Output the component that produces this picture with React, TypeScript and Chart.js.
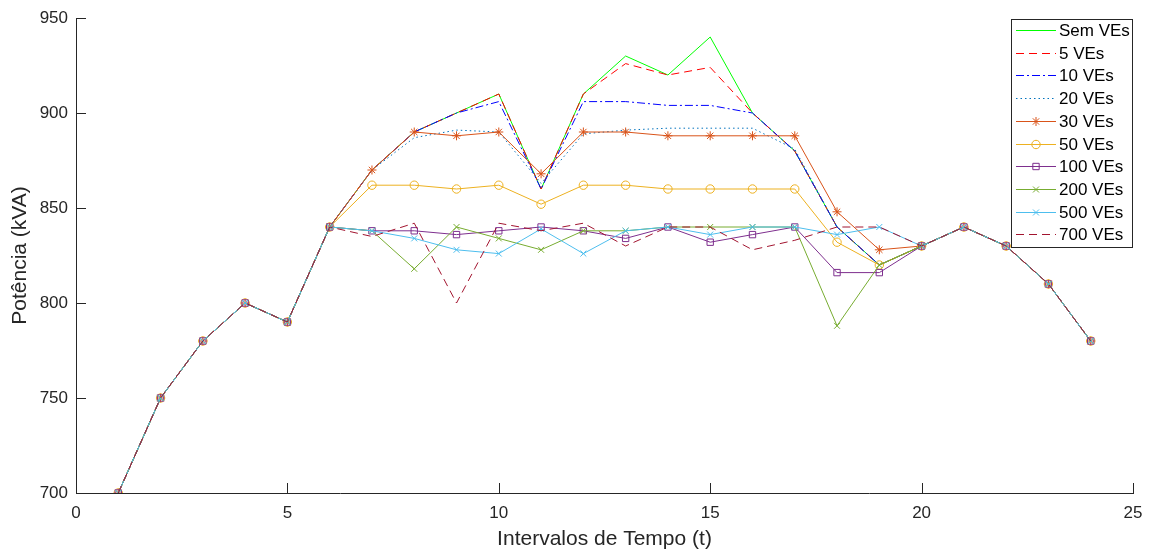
import React, { useEffect, useRef } from 'react';
import { Chart, registerables } from 'chart.js';

Chart.register(...registerables);

// ---- Data ----
const intervals = [1, 2, 3, 4, 5, 6, 7, 8, 9, 10, 11, 12, 13, 14, 15, 16, 17, 18, 19, 20, 21, 22, 23, 24];
const semVEs = [700, 750, 780, 800, 790, 840, 870, 890, 900, 910, 860, 910, 930, 920, 940, 900, 880, 840, 820, 830, 840, 830, 810, 780];
const ves5 = [700, 750, 780, 800, 790, 840, 870, 890, 900, 910, 860, 910, 926, 920, 924, 900, 880, 840, 820, 830, 840, 830, 810, 780];
const ves10 = [700, 750, 780, 800, 790, 840, 870, 890, 900, 906, 860, 906, 906, 904, 904, 900, 880, 840, 820, 830, 840, 830, 810, 780];
const ves20 = [700, 750, 780, 800, 790, 840, 870, 887, 891, 890, 863, 889, 891, 892, 892, 892, 881, 840, 820, 830, 840, 830, 810, 780];
const ves30 = [700, 750, 780, 800, 790, 840, 870, 890, 888, 890, 868, 890, 890, 888, 888, 888, 888, 848, 828, 830, 840, 830, 810, 780];
const ves50 = [700, 750, 780, 800, 790, 840, 862, 862, 860, 862, 852, 862, 862, 860, 860, 860, 860, 832, 820, 830, 840, 830, 810, 780];
const ves100 = [700, 750, 780, 800, 790, 840, 838, 838, 836, 838, 840, 838, 834, 840, 832, 836, 840, 816, 816, 830, 840, 830, 810, 780];
const ves200 = [700, 750, 780, 800, 790, 840, 838, 818, 840, 834, 828, 838, 838, 840, 840, 840, 840, 788, 820, 830, 840, 830, 810, 780];
const ves500 = [700, 750, 780, 800, 790, 840, 838, 834, 828, 826, 839, 826, 838, 840, 836, 840, 840, 836, 840, 830, 840, 830, 810, 780];
const ves700 = [700, 750, 780, 800, 790, 840, 835, 842, 800, 842, 838, 842, 830, 840, 840, 828, 833, 840, 840, 830, 840, 830, 810, 780];

const seriesLabels = ['Sem VEs', '5 VEs', '10 VEs', '20 VEs', '30 VEs', '50 VEs', '100 VEs', '200 VEs', '500 VEs', '700 VEs'];
const seriesValues = [semVEs, ves5, ves10, ves20, ves30, ves50, ves100, ves200, ves500, ves700];
const xTicks = [0, 5, 10, 15, 20, 25];
const yTicks = [700, 750, 800, 850, 900, 950];

// ---- Styles ----
const seriesColors = ['#00FF00', '#FF0000', '#0000FF', '#0072BD', '#D95319', '#EDB120', '#7E2F8E', '#77AC30', '#4DBEEE', '#A2142F'];
const seriesDash: number[][] = [[], [8, 5], [8, 3, 2, 3], [1.5, 3], [], [], [], [], [], [8, 5]];
const seriesMarker: (string | null)[] = [null, null, null, null, 'star', 'circle', 'rect', 'crossRot', 'crossRot', null];
const markerRadius: Record<string, number> = { star: 4.5, circle: 4.2, rect: 4.5, crossRot: 4.2 };

const FONT = '"Liberation Sans", Arial, Helvetica, sans-serif';
const AXIS_COLOR = '#262626';

function drawMarker(ctx: CanvasRenderingContext2D, style: string, x: number, y: number, r: number, color: string) {
  ctx.save();
  ctx.strokeStyle = color;
  ctx.lineWidth = 1;
  ctx.setLineDash([]);
  ctx.beginPath();
  if (style === 'circle') {
    ctx.arc(x, y, r, 0, Math.PI * 2);
  } else if (style === 'rect') {
    const s = Math.SQRT1_2 * r;
    ctx.rect(x - s, y - s, 2 * s, 2 * s);
  } else if (style === 'crossRot') {
    const d = Math.SQRT1_2 * r;
    ctx.moveTo(x - d, y - d); ctx.lineTo(x + d, y + d);
    ctx.moveTo(x - d, y + d); ctx.lineTo(x + d, y - d);
  } else if (style === 'star') {
    const d = Math.SQRT1_2 * r;
    ctx.moveTo(x - r, y); ctx.lineTo(x + r, y);
    ctx.moveTo(x, y - r); ctx.lineTo(x, y + r);
    ctx.moveTo(x - d, y - d); ctx.lineTo(x + d, y + d);
    ctx.moveTo(x - d, y + d); ctx.lineTo(x + d, y - d);
  }
  ctx.stroke();
  ctx.restore();
}

const innerTicksPlugin = {
  id: 'innerTicks',
  afterDatasetsDraw(chart: any) {
    const { ctx, chartArea, scales } = chart;
    const { left, bottom } = chartArea;
    ctx.save();
    ctx.strokeStyle = AXIS_COLOR;
    ctx.lineWidth = 1;
    ctx.beginPath();
    for (const v of xTicks) {
      const px = Math.round(scales.x.getPixelForValue(v)) + 0.5;
      ctx.moveTo(px, bottom);
      ctx.lineTo(px, bottom - 10);
    }
    for (const v of yTicks) {
      const py = Math.round(scales.y.getPixelForValue(v)) + 0.5;
      ctx.moveTo(left, py);
      ctx.lineTo(left + 10, py);
    }
    ctx.stroke();
    ctx.restore();
  },
};

const boxLegendPlugin = {
  id: 'boxLegend',
  afterDraw(chart: any) {
    const { ctx, chartArea } = chart;
    const w = 122;
    const h = 228;
    const x0 = Math.round(chartArea.right) - w;
    const y0 = Math.round(chartArea.top) + 1;
    ctx.save();
    ctx.fillStyle = '#ffffff';
    ctx.fillRect(x0, y0, w, h);
    ctx.strokeStyle = AXIS_COLOR;
    ctx.lineWidth = 1;
    ctx.setLineDash([]);
    ctx.strokeRect(x0 + 0.5, y0 + 0.5, w - 1, h);
    seriesLabels.forEach((label, i) => {
      const color = seriesColors[i];
      const cy = Math.round(y0 + 11 + i * 22.7) + 0.5;
      ctx.strokeStyle = color;
      ctx.lineWidth = 1.2;
      ctx.setLineDash(seriesDash[i]);
      ctx.beginPath();
      ctx.moveTo(x0 + 5, cy);
      ctx.lineTo(x0 + 45, cy);
      ctx.stroke();
      ctx.setLineDash([]);
      const m = seriesMarker[i];
      if (m) drawMarker(ctx, m, x0 + 25, cy, markerRadius[m], color);
      ctx.fillStyle = '#000000';
      ctx.font = `17px ${FONT}`;
      ctx.textBaseline = 'middle';
      ctx.textAlign = 'left';
      ctx.fillText(label, x0 + 48, cy + 1);
    });
    ctx.restore();
  },
};

export default function App() {
  const canvasRef = useRef<HTMLCanvasElement | null>(null);

  useEffect(() => {
    if (!canvasRef.current) return;
    const datasets = seriesLabels.map((label, i) => {
      const m = seriesMarker[i];
      return {
        label,
        data: intervals.map((t, k) => ({ x: t, y: seriesValues[i][k] })),
        borderColor: seriesColors[i],
        backgroundColor: seriesColors[i],
        borderWidth: 1,
        borderDash: seriesDash[i],
        pointStyle: m || 'circle',
        pointRadius: m ? markerRadius[m] : 0,
        pointBorderColor: seriesColors[i],
        pointBackgroundColor: 'rgba(0,0,0,0)',
        pointBorderWidth: 1,
        tension: 0,
        fill: false,
        order: seriesLabels.length - i,
      };
    });

    const chart = new Chart(canvasRef.current, {
      type: 'line',
      data: { datasets },
      options: {
        responsive: false,
        animation: false,
        events: [],
        layout: { padding: { left: 8, right: 16, top: 18, bottom: 0 } },
        plugins: {
          legend: { display: false },
          tooltip: { enabled: false },
        },
        scales: {
          x: {
            type: 'linear',
            min: 0,
            max: 25,
            afterBuildTicks: (scale: any) => {
              scale.ticks = xTicks.map((v) => ({ value: v }));
            },
            afterFit: (scale: any) => {
              scale.height = 59;
              scale.paddingRight = 0;
              scale.paddingLeft = 0;
            },
            grid: { display: false, drawTicks: false },
            border: { display: true, color: AXIS_COLOR, width: 1 },
            ticks: {
              padding: 10,
              color: AXIS_COLOR,
              maxRotation: 0,
              autoSkip: false,
              font: { family: FONT, size: 17 },
            },
            title: {
              display: true,
              text: 'Intervalos de Tempo (t)',
              color: AXIS_COLOR,
              font: { family: FONT, size: 21 },
              padding: { top: 0, bottom: 0 },
            },
          },
          y: {
            type: 'linear',
            min: 700,
            max: 950,
            afterBuildTicks: (scale: any) => {
              scale.ticks = yTicks.map((v) => ({ value: v }));
            },
            afterFit: (scale: any) => {
              scale.width = 68;
              scale.paddingTop = 0;
              scale.paddingBottom = 0;
            },
            grid: { display: false, drawTicks: false },
            border: { display: true, color: AXIS_COLOR, width: 1 },
            ticks: {
              padding: 8,
              color: AXIS_COLOR,
              autoSkip: false,
              font: { family: FONT, size: 17 },
            },
            title: {
              display: true,
              text: 'Potência (kVA)',
              color: AXIS_COLOR,
              font: { family: FONT, size: 21 },
              padding: { top: 0, bottom: 0 },
            },
          },
        },
      },
      plugins: [innerTicksPlugin, boxLegendPlugin],
    });

    return () => chart.destroy();
  }, []);

  return (
    <div style={{ position: 'fixed', left: 0, top: 0, width: 1149, height: 552, background: '#fff' }}>
      <canvas ref={canvasRef} width={1149} height={552} style={{ display: 'block', width: 1149, height: 552 }} />
    </div>
  );
}
